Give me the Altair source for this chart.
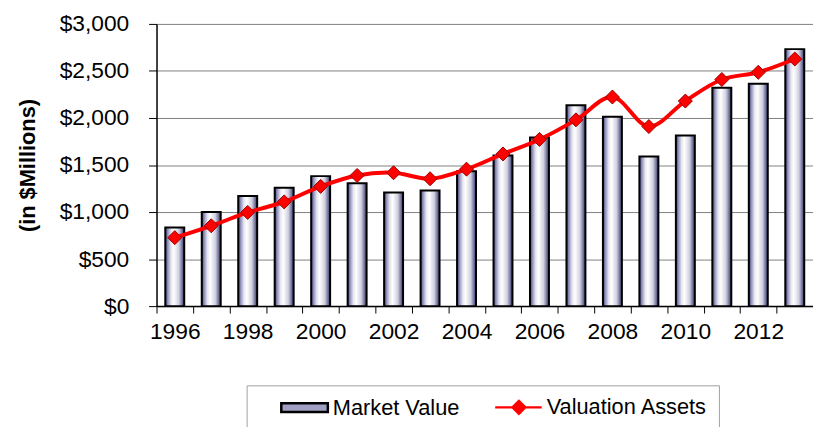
import altair as alt
import pandas as pd

years = list(range(1996, 2014))
market_value = [835, 1000, 1171, 1259, 1382, 1305, 1207, 1228, 1435, 1600,
                1793, 2135, 2012, 1590, 1814, 2321, 2363, 2732]
valuation_assets = [728, 854, 996, 1108, 1273, 1389, 1418, 1354, 1456, 1618,
                    1772, 1980, 2223, 1909, 2180, 2409, 2486, 2627]
series_names = ["Market Value", "Valuation Assets"]
y_ticks = [0, 500, 1000, 1500, 2000, 2500, 3000]

df = pd.DataFrame({"year": years, "market": market_value, "valuation": valuation_assets})
legend_df = pd.DataFrame({"series": series_names, "year": [years[0]] * 2, "v": [0, 0]})

FONT = "Liberation Sans"

x_enc = alt.X(
    "year:O",
    scale=alt.Scale(paddingInner=0, paddingOuter=0),
    axis=alt.Axis(
        title=None, labelAngle=0, labelFontSize=23, labelColor="black",
        labelPadding=8, tickSize=7, tickColor="black", tickBand="extent",
        domainColor="black", domainWidth=1.5, labelOverlap=False,
        labelExpr="datum.value % 2 == 0 ? datum.label : ''", grid=False,
    ),
)
y_scale = alt.Scale(domain=[0, 3000], nice=False)

bar_gradient = alt.Gradient(
    gradient="linear", x1=0, x2=1, y1=0, y2=0,
    stops=[
        alt.GradientStop(color="#34346e", offset=0),
        alt.GradientStop(color="#8c8cb8", offset=0.12),
        alt.GradientStop(color="#e6e6f0", offset=0.3),
        alt.GradientStop(color="#ffffff", offset=0.45),
        alt.GradientStop(color="#cfcfe0", offset=0.72),
        alt.GradientStop(color="#34346e", offset=1),
    ],
)

bars = alt.Chart(df).mark_bar(
    fill=bar_gradient, stroke="black", strokeWidth=2,
    width=alt.RelativeBandSize(0.52),
).encode(
    x=x_enc,
    y=alt.Y(
        "market:Q", scale=y_scale,
        axis=alt.Axis(
            title="(in $Millions)", titleFontSize=22, titleFontWeight="bold",
            titleColor="black", titlePadding=20, values=y_ticks, format="$,.0f",
            labelFontSize=23, labelColor="black", labelPadding=20, tickSize=8,
            tickColor="black", domainColor="black", domainWidth=1.5,
            grid=True, gridColor="#808080", gridWidth=1, labelOverlap=False,
        ),
    ),
)

line = alt.Chart(df).mark_line(
    color="#ff0000", strokeWidth=4, interpolate="catmull-rom"
).encode(x="year:O", y=alt.Y("valuation:Q", scale=y_scale))

points = alt.Chart(df).mark_point(
    shape="diamond", filled=True, fill="#ff0000", stroke="#990000",
    strokeWidth=1, size=200, opacity=1,
).encode(x="year:O", y=alt.Y("valuation:Q", scale=y_scale))

bar_sym = "M-1.22,-0.5H4V0.5H-1.22Z"
line_sym = "M-1.22,0H4M0.72,0L1.44,-0.72L2.16,0L1.44,0.72Z"

legend = alt.Legend(
    title=" ", titleOrient="left", titleFontSize=10, titlePadding=24,
    orient="none", legendX=91, legendY=365, direction="horizontal", columns=2,
    columnPadding=31, padding=11, strokeColor="#a0a0a0", fillColor="white",
    labelFontSize=22, labelColor="black", labelOffset=30, labelLimit=400,
    symbolSize=324, symbolStrokeWidth=2.5, symbolOpacity=1,
)

legend_layer = alt.Chart(legend_df).mark_point(filled=True, opacity=0).encode(
    x="year:O",
    y=alt.Y("v:Q", scale=y_scale),
    fill=alt.Fill("series:N", scale=alt.Scale(domain=series_names, range=["#a0a0c4", "#ff0000"]), legend=legend),
    stroke=alt.Stroke("series:N", scale=alt.Scale(domain=series_names, range=["#000000", "#ff0000"]), legend=legend),
    shape=alt.Shape("series:N", scale=alt.Scale(domain=series_names, range=[bar_sym, line_sym]), legend=legend),
)

chart = alt.layer(bars, line, points, legend_layer).properties(
    width=663, height=285,
    autosize=alt.AutoSizeParams(type="none"),
    padding={"left": 150, "top": 14, "right": 0, "bottom": 120},
).configure(font=FONT).configure_view(stroke=None)

chart.save("out.html", embed_options={"renderer": "svg", "actions": False})
